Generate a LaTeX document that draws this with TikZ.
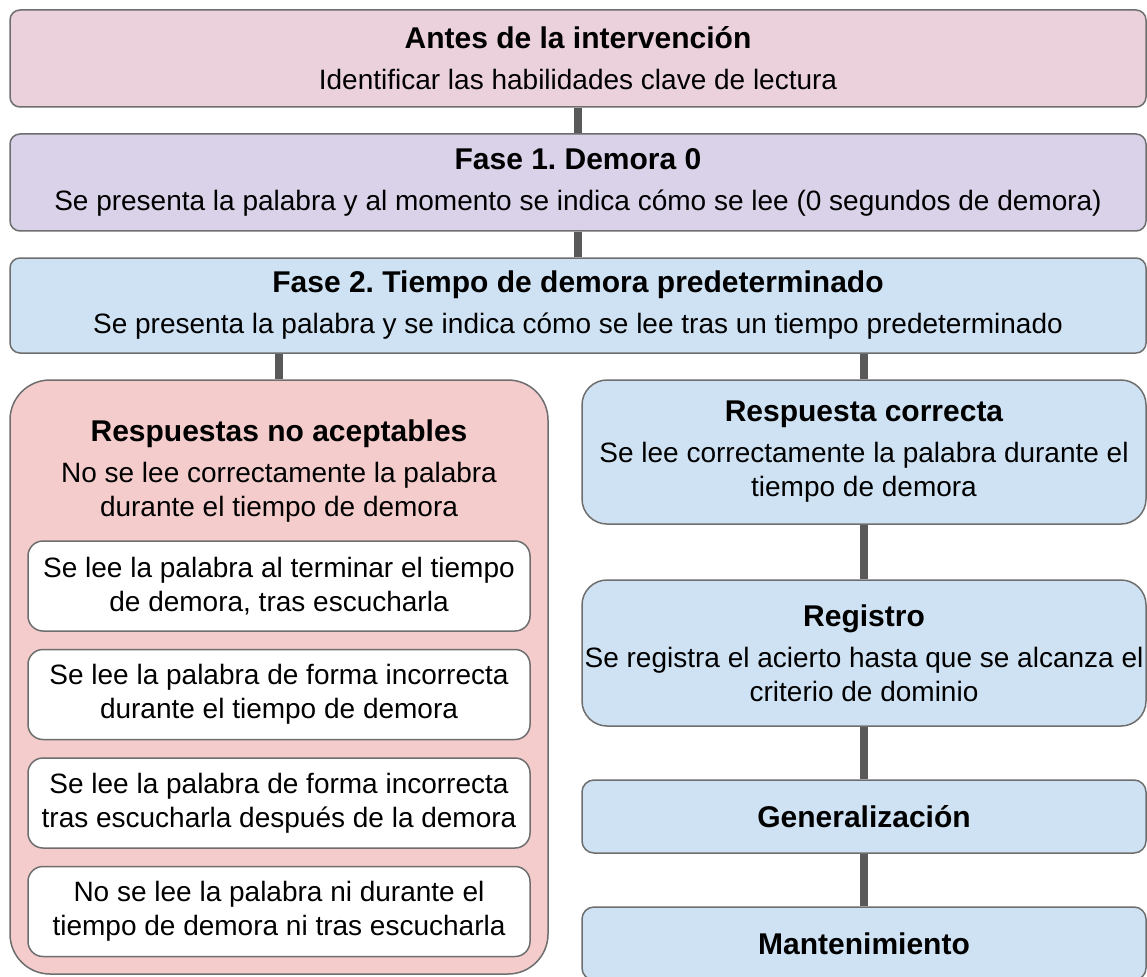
\documentclass[tikz,border=0pt]{standalone}
\usepackage{fontspec}
\setmainfont{Liberation Sans}
\usepackage{xcolor}
\usetikzlibrary{positioning}
\frenchspacing
\definecolor{rosa}{HTML}{EAD1DC}
\definecolor{lila}{HTML}{D9D2E9}
\definecolor{celeste}{HTML}{CFE2F3}
\definecolor{rojizo}{HTML}{F4CCCC}
\definecolor{borde}{HTML}{6E6E6E}
\definecolor{conector}{HTML}{595959}
\tikzstyle{caja} = [draw=borde, line width=1.5pt, rounded corners=10pt, align=center, inner sep=0pt, font=\fontsize{28}{34}\selectfont]
\tikzstyle{texto} = [align=center, inner sep=0pt, font=\fontsize{28}{34}\selectfont]
\tikzstyle{link} = [line width=8pt, draw=conector]
\newcommand{\titulo}[1]{{\fontsize{30}{34}\selectfont\bfseries #1}}

\begin{document}
\begin{tikzpicture}[x=1pt, y=-1pt]
        \useasboundingbox[fill=white] (0,0) rectangle (1147,976);
        % fases generales
        \node[caja, fill=rosa, minimum width=1136pt, minimum height=97pt] (antes) at (578,58.5) {\titulo{Antes de la intervención}\\[7pt] Identificar las habilidades clave de lectura};
        \node[caja, fill=lila, minimum width=1136pt, minimum height=97pt] (fase1) at (578,182.5) {\titulo{Fase 1. Demora 0}\\[7pt] Se presenta la palabra y al momento se indica cómo se lee (0 segundos de demora)};
        \node[caja, fill=celeste, minimum width=1136pt, minimum height=95pt] (fase2) at (578,305.5) {\titulo{Fase 2. Tiempo de demora predeterminado}\\[7pt] Se presenta la palabra y se indica cómo se lee tras un tiempo predeterminado};
        % rama izquierda
        \node[caja, fill=rojizo, rounded corners=40pt, minimum width=538pt, minimum height=594pt] (noacept) at (279,677) {};
        \node[texto] (noacepttxt) at (279,471) {\titulo{Respuestas no aceptables}\\[7pt] No se lee correctamente la palabra\\ durante el tiempo de demora};
        \node[caja, fill=white, rounded corners=15pt, minimum width=502pt, minimum height=90pt] (caso1) at (279,586) {Se lee la palabra al terminar el tiempo\\ de demora, tras escucharla};
        \node[caja, fill=white, rounded corners=15pt, minimum width=502pt, minimum height=90pt, below=17pt of caso1] (caso2) {Se lee la palabra de forma incorrecta\\ durante el tiempo de demora};
        \node[caja, fill=white, rounded corners=15pt, minimum width=502pt, minimum height=90pt, below=17pt of caso2] (caso3) {Se lee la palabra de forma incorrecta\\ tras escucharla después de la demora};
        \node[caja, fill=white, rounded corners=15pt, minimum width=502pt, minimum height=90pt, below=17pt of caso3] (caso4) {No se lee la palabra ni durante el\\ tiempo de demora ni tras escucharla};
        % rama derecha
        \node[caja, fill=celeste, rounded corners=25pt, minimum width=564pt, minimum height=144pt] (correcta) at (864,452) {\titulo{Respuesta correcta}\\[7pt] Se lee correctamente la palabra durante el\\ tiempo de demora};
        \node[caja, fill=celeste, rounded corners=25pt, minimum width=564pt, minimum height=146pt] (registro) at (864,653) {\titulo{Registro}\\[7pt] Se registra el acierto hasta que se alcanza el\\ criterio de dominio};
        \node[caja, fill=celeste, rounded corners=12pt, minimum width=564pt, minimum height=73pt] (general) at (864,816.5) {\titulo{Generalización}};
        \node[caja, fill=celeste, rounded corners=12pt, minimum width=564pt, minimum height=73pt] (manten) at (864,943.5) {\titulo{Mantenimiento}};
        % conectores
        \draw[link] (antes) -- (fase1);
        \draw[link] (fase1) -- (fase2);
        \draw[link] (fase2.south -| noacept.north) -- (noacept.north);
        \draw[link] (fase2.south -| correcta.north) -- (correcta.north);
        \draw[link] (correcta) -- (registro);
        \draw[link] (registro) -- (general);
        \draw[link] (general) -- (manten);
\end{tikzpicture}
\end{document}
